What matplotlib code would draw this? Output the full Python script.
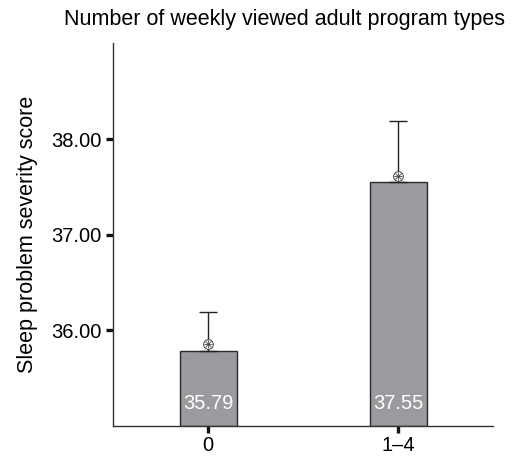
import matplotlib
matplotlib.use("Agg")
import matplotlib.pyplot as plt
import matplotlib.transforms as mtransforms

categories = ["0", "1\u20134"]
means = [35.79, 37.55]
upper_err = [0.40, 0.64]
value_labels = ["35.79", "37.55"]
yticks = [36.0, 37.0, 38.0]
ytick_labels = ["36.00", "37.00", "38.00"]

plt.rcParams['font.family'] = ['Liberation Sans', 'DejaVu Sans']

fig = plt.figure(figsize=(5.12, 4.57), dpi=100)
ax = fig.add_axes([113/512, 31/457, 380/512, 383/457])

x = list(range(len(categories)))
ax.bar(x, [m - 35.0 for m in means], bottom=35.0, width=0.3,
       color='#9b9b9f', edgecolor='#2a2a2a', linewidth=1.0, zorder=2)
ax.errorbar(x, means, yerr=[[0]*len(means), upper_err], fmt='none',
            ecolor='#222222', elinewidth=1.0, capsize=6.8, capthick=1.0, zorder=3)

off = mtransforms.offset_copy(ax.transData, fig=fig, x=0, y=5, units='points')
ax.plot(x, means, linestyle='none', marker='o', markersize=7,
        markerfacecolor='white', markeredgecolor='#444444', markeredgewidth=0.7,
        transform=off, zorder=4)
ax.plot(x, means, linestyle='none', marker='+', markersize=6,
        markeredgecolor='#444444', markeredgewidth=0.6,
        transform=off, zorder=5)
ax.plot(x, means, linestyle='none', marker='x', markersize=4.5,
        markeredgecolor='#444444', markeredgewidth=0.6,
        transform=off, zorder=5)

for xi, lab in zip(x, value_labels):
    ax.annotate(lab, xy=(xi, 35.0), xytext=(0, 23), textcoords='offset points',
                ha='center', va='top', color='white', fontsize=14.5, zorder=6)

ax.set_xlim(-0.5, 1.5)
ax.set_ylim(35.0, 39.01)
ax.set_xticks(x)
ax.set_xticklabels(categories, fontsize=14.5)
ax.set_yticks(yticks)
ax.set_yticklabels(ytick_labels, fontsize=14.5)
ax.tick_params(axis='both', direction='out', length=5, width=2.4, color='#111111', pad=3)
ax.tick_params(axis='x', pad=2.5)

for s in ['top', 'right']:
    ax.spines[s].set_visible(False)
for s in ['left', 'bottom']:
    ax.spines[s].set_color('#333333')
    ax.spines[s].set_linewidth(1.0)

ax.set_ylabel("Sleep problem severity score", fontsize=15.5, labelpad=10)
fig.text(285/512, 1 - 19/457, "Number of weekly viewed adult program types",
         ha='center', va='center', fontsize=15.5)

fig.savefig("out.png", dpi=100)
